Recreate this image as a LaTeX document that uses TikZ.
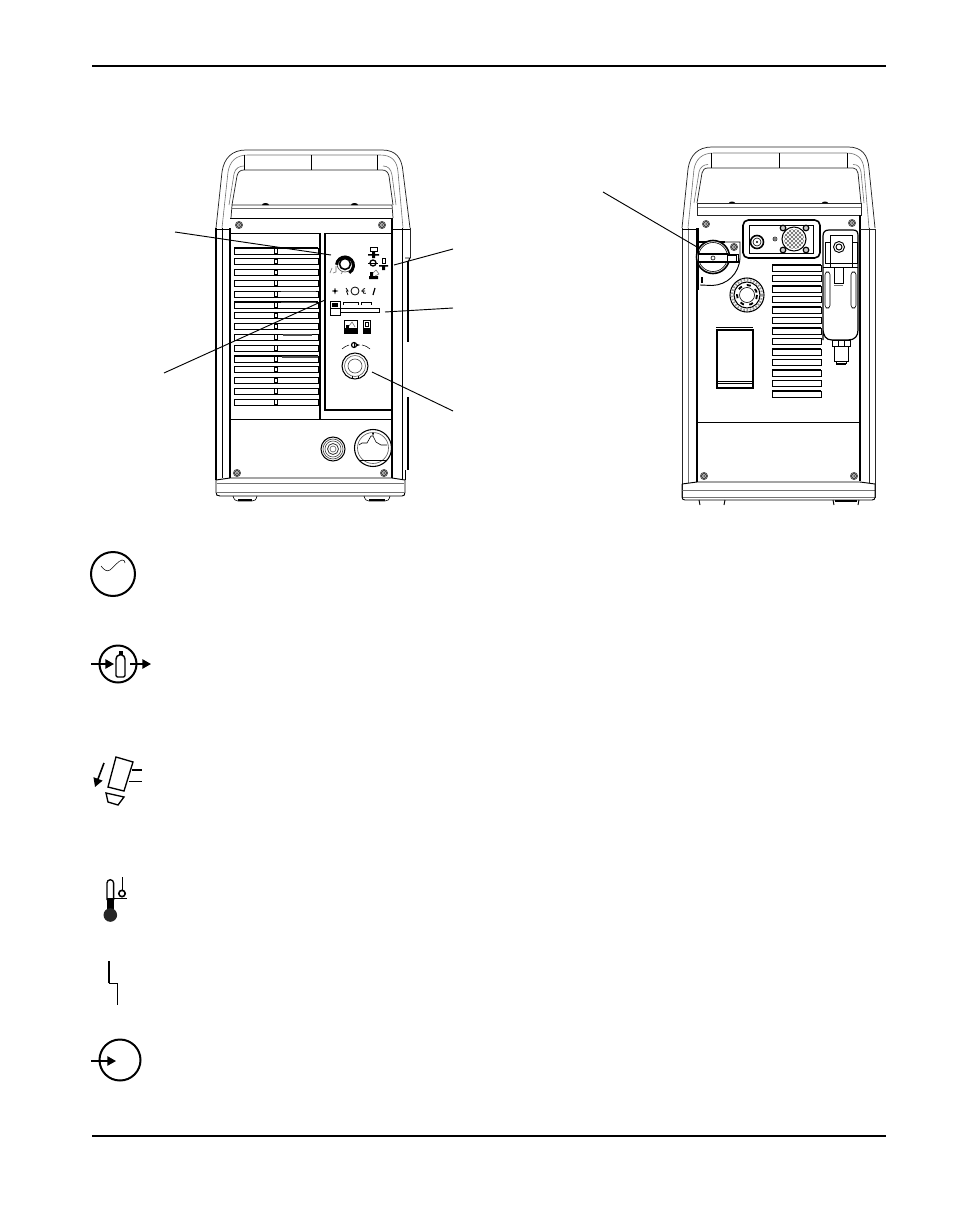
\documentclass[tikz,border=0pt]{standalone}
\usetikzlibrary{arrows.meta}
\tikzset{
 thin line/.style={line width=0.45pt,black},
 med line/.style={line width=0.7pt,black},
 hand line/.style={line width=0.55pt,black!85},
 heavy line/.style={line width=1.2pt,black},
 grey line/.style={line width=0.45pt,black!55},
 leader/.style={line width=0.7pt,black},
 icon/.style={line width=1.5pt,black},
 rule line/.style={line width=1.2pt,black},
 slat/.style={line width=0.65pt,black,fill=white},
 screw/.pic={\draw[line width=0.5pt,black!70,fill=black!10] (0,0) circle (3.6);
   \draw[line width=0.8pt,black!80,fill=white] (0,0) circle (2.4);
   \fill[black!80] (0,0) circle (1);},
 ahead/.style={-{Triangle[length=6.5pt,width=7pt]},line width=1.2pt,black}
}
\begin{document}
\begin{tikzpicture}[x=0.75pt,y=-0.75pt]
\useasboundingbox (0,0) rectangle (954,1227);
\fill[white] (0,0) rectangle (954,1227);
% page rules
\coordinate (rt1) at (92,66); \coordinate (rt2) at (886,66);
\coordinate (rb1) at (92,1136); \coordinate (rb2) at (886,1136);
\draw[rule line] (rt1) -- (rt2);
\draw[rule line] (rb1) -- (rb2);

%%%%%%%%%% LEFT (front) UNIT
% handle
\draw[hand line] (216,228) -- (222,172) .. controls (224,158) and (232,150) .. (246,150) -- (382,150) .. controls (396,150) and (402,158) .. (403,172) -- (410,228);
\draw[grey line] (222,228) -- (228,172) .. controls (230,161) and (236,155) .. (248,155) -- (380,155) .. controls (392,155) and (397,161) .. (398,172) -- (403,228);
\draw[hand line] (232,205) -- (237,176) .. controls (238,172) and (240,170) .. (244,170) -- (382,170) .. controls (386,170) and (388,172) .. (389,176) -- (393,205);
\draw[grey line] (229,205) -- (234,174) .. controls (235,168) and (240,166) .. (244,166) (383,166) .. controls (388,166) and (391,169) .. (392,175) -- (396,205);
\draw[med line] (244,155) -- (244,170) (311,155) -- (311,170) (377,155) -- (377,170);
\draw[hand line] (231,218) -- (232,205) -- (392,205) -- (393,218);
\draw[grey line] (231,208) -- (393,208);
\fill[black] (262,205) arc (180:360:3.5 and 2) -- cycle;
\fill[black] (351,205) arc (180:360:3.5 and 2) -- cycle;
\draw[med line] (230,218) -- (392,218);
% frame
\draw[heavy line] (216,228) -- (216,480);
\draw[thin line] (222,228) -- (222,478);
\draw[heavy line] (230,228) -- (230,478);
\draw[med line] (216,229) -- (230,229);
\draw[heavy line] (392,218) -- (392,478);
\draw[med line] (402,228) -- (402,480);
\draw[med line] (392,229) -- (410,229);
\draw[hand line] (410,228) -- (410,258);
\draw[heavy line] (408,262) -- (408,342);
\draw[heavy line] (408,397) -- (408,470);
\draw[med line] (405,258) -- (410,258) -- (408,262);
\draw[med line] (405,470) -- (405,480);
% base
\draw[med line] (216,480) -- (230,478) -- (392,478) -- (405,480);
\draw[grey line] (217,483) -- (404,483);
\draw[med line] (216,480) -- (216,492) .. controls (216,495) and (217,496) .. (220,496) -- (402,496) .. controls (404,496) and (405,495) .. (405,492) -- (405,480);
\draw[grey line] (216,492) -- (405,492);
\draw[thin line] (233,496) .. controls (234,500) and (236,501) .. (238,501) -- (252,501) .. controls (255,501) and (256,500) .. (257,496);
\draw[thin line] (364,496) .. controls (365,500) and (367,501) .. (369,501) -- (385,501) .. controls (388,501) and (389,500) .. (390,496);
\draw[heavy line] (238,500) -- (252,500) (369,500) -- (385,500);
% screws
\path (239,225) pic {screw} (382,225) pic {screw} (237,473) pic {screw} (384,473) pic {screw};
% panel
\draw[med line] (230,233) -- (320,233);
\draw[med line] (325,233) -- (392,233);
\draw[heavy line] (320,233) -- (320,419);
\draw[heavy line] (325,233) -- (325,410) -- (391,410);
\draw[med line] (230,419) -- (392,419);
% slats
\foreach \k in {0,...,14}{
 \draw[slat] (234,{248+10.8*\k}) rectangle (318,{254+10.8*\k});
 \draw[line width=0.8pt,black] (234,{248+10.8*\k}) -- (318,{248+10.8*\k});
 \draw[line width=0.6pt,black,fill=white] (274.5,{248.4+10.8*\k}) rectangle (277.5,{253+10.8*\k});
}
\draw[black!70,line width=0.9pt] (281,291.8) -- (316,291.8) (281,302.6) -- (316,302.6) (283,335) -- (312,335) (282,357) -- (318,357);
% knob
\draw[line width=0.5pt,black!70] (345,264) circle (8);
\draw[heavy line] (345,264) circle (5.5);
\draw[line width=2.2pt,black] (345,264) ++(175:8.5) arc (-175:60:8.5);
\draw[grey line] (332,268) -- (330,273) (336,266) -- (336,272) -- (333,273) (341,274) -- (343,271);
% right icons
\draw[line width=0.5pt,black] (370,247) rectangle (377,251);
\fill[black] (368,254) rectangle (379,255.5) (372,251) rectangle (375,258);
\draw[line width=1pt,black] (373,263) circle (3);
\fill[black] (368,262.5) rectangle (378,263.5);
\draw[line width=0.5pt,black] (382,258) rectangle (385,263);
\fill[black] (379,265) rectangle (388,266.5) (382,266) rectangle (385,270);
\fill[black] (369,276) rectangle (378,279) (370,272) rectangle (373,276);
\draw[grey line] (373,273) -- (376,270) -- (379,274) -- (375,276);
% row icons
\draw[line width=0.6pt,black] (335,291) circle (1.2) (332,291) -- (338,291) (335,288) -- (335,294);
\draw[line width=0.6pt,black] (346,288) -- (348,291) -- (346.5,291) -- (348,295);
\draw[line width=0.6pt,black] (355,291) circle (4);
\draw[line width=0.6pt,black] (365,288.5) arc (270:70:2.5) (361,291) -- (365,291);
\draw[line width=0.9pt,black] (375,288) -- (373,295);
% brackets
\draw[thin line] (343,305) -- (343,302) -- (358,302) -- (358,305);
\draw[thin line] (361,305) -- (361,302) -- (371,302) -- (371,305);
% display bar
\draw[med line] (338,308) rectangle (379,312);
\draw[med line,fill=white] (330,301) rectangle (340,315);
\draw[med line] (330,308) -- (340,308);
\fill[black] (332,303) rectangle (338,307);
\fill[black] (340,308) rectangle (341,312);
% two icons
\draw[med line] (344,320) rectangle (357,333);
\fill[black] (344,328) rectangle (357,333);
\fill[black] (346,325) rectangle (349,328);
\draw[grey line] (349,326) -- (352,322) -- (355,327);
\draw[med line] (363,320) rectangle (370,333);
\fill[black] (363,328) rectangle (370,333);
\draw[line width=0.5pt,black] (365,322) rectangle (368,326);
% dial symbol
\draw[line width=0.9pt,black] (354,345) circle (2.5);
\fill[black] (356,343.5) -- (360,345) -- (356,346.5) -- cycle;
\fill[black] (353.5,342) rectangle (354.5,348);
\draw[line width=0.4pt,black] (342,349) .. controls (344,347) and (346,346) .. (349,345);
\draw[line width=0.4pt,black] (370,349) .. controls (368,347) and (366,346) .. (362,345);
% big torch connector
\draw[line width=0.8pt,black] (355,366) circle (13);
\draw[line width=0.5pt,black!60] (355,366) circle (10.5);
\draw[line width=0.5pt,black!70] (355,366) circle (7);
\draw[line width=0.6pt,black] (352,376) -- (352,379) (358,376) -- (358,379);
% lower connectors
\draw[line width=0.8pt,black] (333,449) circle (12);
\draw[line width=0.5pt,black!70] (333,449) circle (10);
\draw[line width=0.5pt,black!70] (333,449) circle (8);
\draw[line width=0.6pt,black!80] (333,449) circle (5.5);
\draw[line width=0.5pt,black!60] (333,449) circle (3);
\draw[line width=0.8pt,black] (373,448) circle (18.5);
\draw[line width=0.5pt,black!60] (373,448) circle (15.5);
\draw[med line] (359,460) -- (387,460);
\draw[thin line] (359,445) -- (362,443) -- (367,443) -- (371,436) -- (373,436) -- (376,442) -- (381,445) -- (387,445);
\fill[black] (372,433) -- (374,433) -- (373,436) -- cycle;

%%%%%%%%%% RIGHT (rear) UNIT
\draw[hand line] (682,228) -- (688,169) .. controls (690,155) and (698,147) .. (712,147) -- (848,147) .. controls (862,147) and (868,155) .. (869,169) -- (875,228);
\draw[grey line] (688,228) -- (694,169) .. controls (696,159) and (702,153) .. (714,153) -- (846,153) .. controls (858,153) and (863,159) .. (864,169) -- (869,228);
\draw[hand line] (697,203) -- (702,173) .. controls (703,170) and (704,168) .. (708,168) -- (853,168) .. controls (856,168) and (857,170) .. (858,173) -- (861,203);
\draw[grey line] (694,203) -- (699,172) .. controls (700,167) and (704,164.5) .. (708,164.5) (853,164.5) .. controls (858,164.5) and (860,167) .. (861,172) -- (864,203);
\draw[med line] (711,153) -- (711,168) (779,153) -- (779,168) (847,153) -- (847,168);
\draw[hand line] (697,203) -- (861,203);
\draw[grey line] (697,207) -- (861,207);
\draw[hand line] (697,203) -- (697,215) -- (861,215) -- (861,203);
\fill[black] (729,203) arc (180:360:3 and 1.5) -- cycle;
\fill[black] (822,203) arc (180:360:3 and 1.5) -- cycle;
% frame
\draw[hand line] (682,228) -- (682,498);
\draw[grey line] (688,228) -- (688,483);
\draw[heavy line] (697,228) -- (697,482);
\draw[med line] (682,229) -- (697,229);
\draw[heavy line] (860,215) -- (860,481);
\draw[hand line] (869,228) -- (869,483);
\draw[hand line] (860,229) -- (875,229) -- (875,498);
\draw[med line] (697,422) -- (860,422);
% base
\draw[med line] (682,484) -- (697,482) -- (860,482) -- (875,484);
\draw[grey line] (682,490) -- (875,490);
\draw[med line] (682,484) -- (682,497) .. controls (682,499) and (683,500) .. (685,500) -- (872,500) .. controls (874,500) and (875,499) .. (875,497) -- (875,484);
\draw[grey line] (683,497) -- (874,497);
\draw[med line] (699,500) -- (700,505) (725,500) -- (724,505) (833,500) -- (834,505) (859,500) -- (858,505);
\draw[heavy line] (835,500.8) -- (857,500.8);
% screws
\path (706,224) pic {screw} (852,223) pic {screw} (704,476) pic {screw} (854,476) pic {screw};
% top connector box
\draw[heavy line,rounded corners=4pt] (743,220) rectangle (820,258);
\draw[thin line] (749,225) -- (813,225) -- (813,253) -- (749,253) -- cycle;
\draw[heavy line] (757,242) circle (6.5);
\draw[thin line] (757,242) circle (4);
\fill[black] (757,242) circle (1.2);
\draw[thin line] (775,239) circle (2); \fill[black] (775,239) circle (.8);
\draw[line width=0.8pt,black] (794,239) circle (12);
\begin{scope}
\clip (794,239) circle (10);
\foreach \d in {-20,-16,...,20}{
 \draw[line width=0.5pt,black!60] (774+\d,219) -- (814+\d,259);
 \draw[line width=0.5pt,black!60] (814+\d,219) -- (774+\d,259);
}
\end{scope}
\foreach \p in {(783,228),(806,228),(783,250),(806,250)}{
 \draw[line width=0.9pt,black,fill=black!20] \p circle (2.8);}
% switch
\draw[med line] (700,285) -- (712,285.5) .. controls (727,285) and (739,274) .. (740,258) -- (740,242) -- (708,242);
\draw[heavy line] (699,242) -- (725,242);
\path (734,247) pic {screw};
\draw[heavy line,fill=white] (713,257) circle (16.5);
\draw[thin line] (713,257) circle (14.5);
\draw[med line,fill=white] (698,254) -- (738,254) -- (738,262) -- (698,262) -- cycle;
\fill[black] (698,253) rectangle (728,255);
\fill[black] (698,261) rectangle (738,263);
\draw[thin line] (713,258) circle (2);
\draw[med line] (727,255) rectangle (736,261);
\fill[black] (700.5,277) rectangle (703,283);
\draw[heavy line] (698.5,228) -- (698.5,290);
% round connector
\draw[line width=0.8pt,black] (747,295) circle (17);
\draw[line width=1.6pt,black!40,dash pattern=on 1.2pt off 1.2pt] (747,295) circle (15);
\draw[line width=0.8pt,black] (747,295) circle (13);
\draw[line width=1.4pt,black,dash pattern=on 3pt off 4pt] (747,295) circle (10);
\draw[thin line,fill=white] (747,295) circle (7.5);
% slats
\foreach \k in {0,...,12}{
 \draw[slat] (772,{265+10.5*\k}) rectangle (821,{271+10.5*\k});
 \draw[line width=0.8pt,black] (772,{265+10.5*\k}) -- (821,{265+10.5*\k});
}
\draw[line width=1.1pt,black] (716,327.5) -- (753,327.5);
% label rectangle
\draw[heavy line,fill=white] (717,330) rectangle (753,388);
\draw[med line] (717,381) -- (753,381);
\draw[thin line] (717,383) -- (753,383);
% filter
\draw[line width=0.9pt,black] (823,340) -- (823,236) .. controls (823,232) and (825,230) .. (829,230) -- (853,230) .. controls (857,230) and (858,232) .. (858,236) -- (858,330) .. controls (858,336) and (855,340) .. (848,340) -- (832,340) .. controls (826,340) and (823,336) .. (823,328);
\draw[thin line] (830,240) -- (830,267) (852,240) -- (852,267);
\draw[med line] (830,235) -- (852,235) -- (852,263) -- (830,263) -- cycle;
\draw[thin line] (825,242) rectangle (830,263);
\draw[thin line] (852,242) rectangle (857,263);
\draw[med line] (839,247) circle (5.5);
\draw[med line] (839,247) circle (3);
\draw[med line] (823,267) -- (858,267);
\draw[thin line] (834,267) -- (834,283) -- (843,283) -- (843,267);
\draw[grey line] (834,285) -- (843,285);
\draw[thin line,rounded corners=2pt] (825,272) rectangle (830,308);
\draw[thin line,rounded corners=2pt] (851,272) rectangle (856,308);
% fitting
\draw[med line] (832,340) rectangle (850,346);
\draw[med line] (838,340) -- (838,346) (844,340) -- (844,346);
\draw[med line] (834,346) -- (834,361) -- (848,361) -- (848,346);
\draw[heavy line] (836,364) -- (846,364);
\draw[med line] (836,361) -- (836,364) (846,361) -- (846,364);

%%%%%%%%%% leaders
\coordinate (a1) at (175,232); \coordinate (b1) at (331,255);
\coordinate (a2) at (453,249); \coordinate (b2) at (394,265);
\coordinate (a3) at (453,308); \coordinate (b3) at (385,312);
\coordinate (a4) at (164,373); \coordinate (b4) at (325,300);
\coordinate (a5) at (453,411); \coordinate (b5) at (372,372);
\coordinate (a6) at (603,192); \coordinate (b6) at (697,247);
\foreach \i in {1,...,6}{\draw[leader] (a\i) -- (b\i);}

%%%%%%%%%% symbols
% AC
\draw[icon] (113,574) circle (22);
\draw[line width=0.4pt,black] (101,566) .. controls (104,570) and (107,572) .. (110,570) .. controls (114,567) and (118,561) .. (122,560) .. controls (124,560) and (125,561) .. (125,563);
% gas
\draw[icon] (118,664) circle (18.5);
\coordinate (g1) at (91,664); \coordinate (g2) at (114,664); \coordinate (g3) at (130,664); \coordinate (g4) at (151,664);
\draw[ahead] (g1) -- (g2);
\draw[ahead] (g3) -- (g4);
\draw[line width=1.1pt,black,fill=white,rounded corners=1pt] (116,677) -- (116,658) -- (118,655) -- (123,655) -- (125,658) -- (125,677) -- cycle;
\fill[black] (118.5,651) rectangle (122.5,655);
% torch
\draw[line width=1pt,black] (116,757) -- (133,762) -- (124,791) -- (108,787) -- cycle;
\draw[line width=1pt,black] (106,793) -- (124,797) -- (118,805) -- (108,802) -- cycle;
\draw[line width=1.3pt,black] (132,770) -- (142,770);
\draw[line width=0.7pt,black] (129,781) -- (142,781);
\coordinate (t1) at (104,763); \coordinate (t2) at (95,787);
\draw[ahead] (t1) -- (t2);
% thermometer
\draw[line width=1pt,black] (107,900) -- (107,883) arc (180:360:3.3) -- (113.6,900);
\fill[black] (107,898) rectangle (113.6,910);
\fill[black!85] (110.3,915) circle (6.8);
\draw[line width=0.7pt,black] (113,898) -- (127,898);
\draw[line width=0.7pt,black] (122,877) -- (122,890);
\draw[line width=1.2pt,black] (122,893.5) circle (3.2);
% step
\draw[line width=1.3pt,black] (109,961) -- (109,983);
\draw[line width=0.7pt,black] (108.5,983) -- (117.5,983) -- (117.5,1005);
% input
\draw[icon] (120,1060) circle (20.5);
\coordinate (i1) at (91,1061); \coordinate (i2) at (116,1061);
\draw[ahead] (i1) -- (i2);
\end{tikzpicture}
\end{document}
